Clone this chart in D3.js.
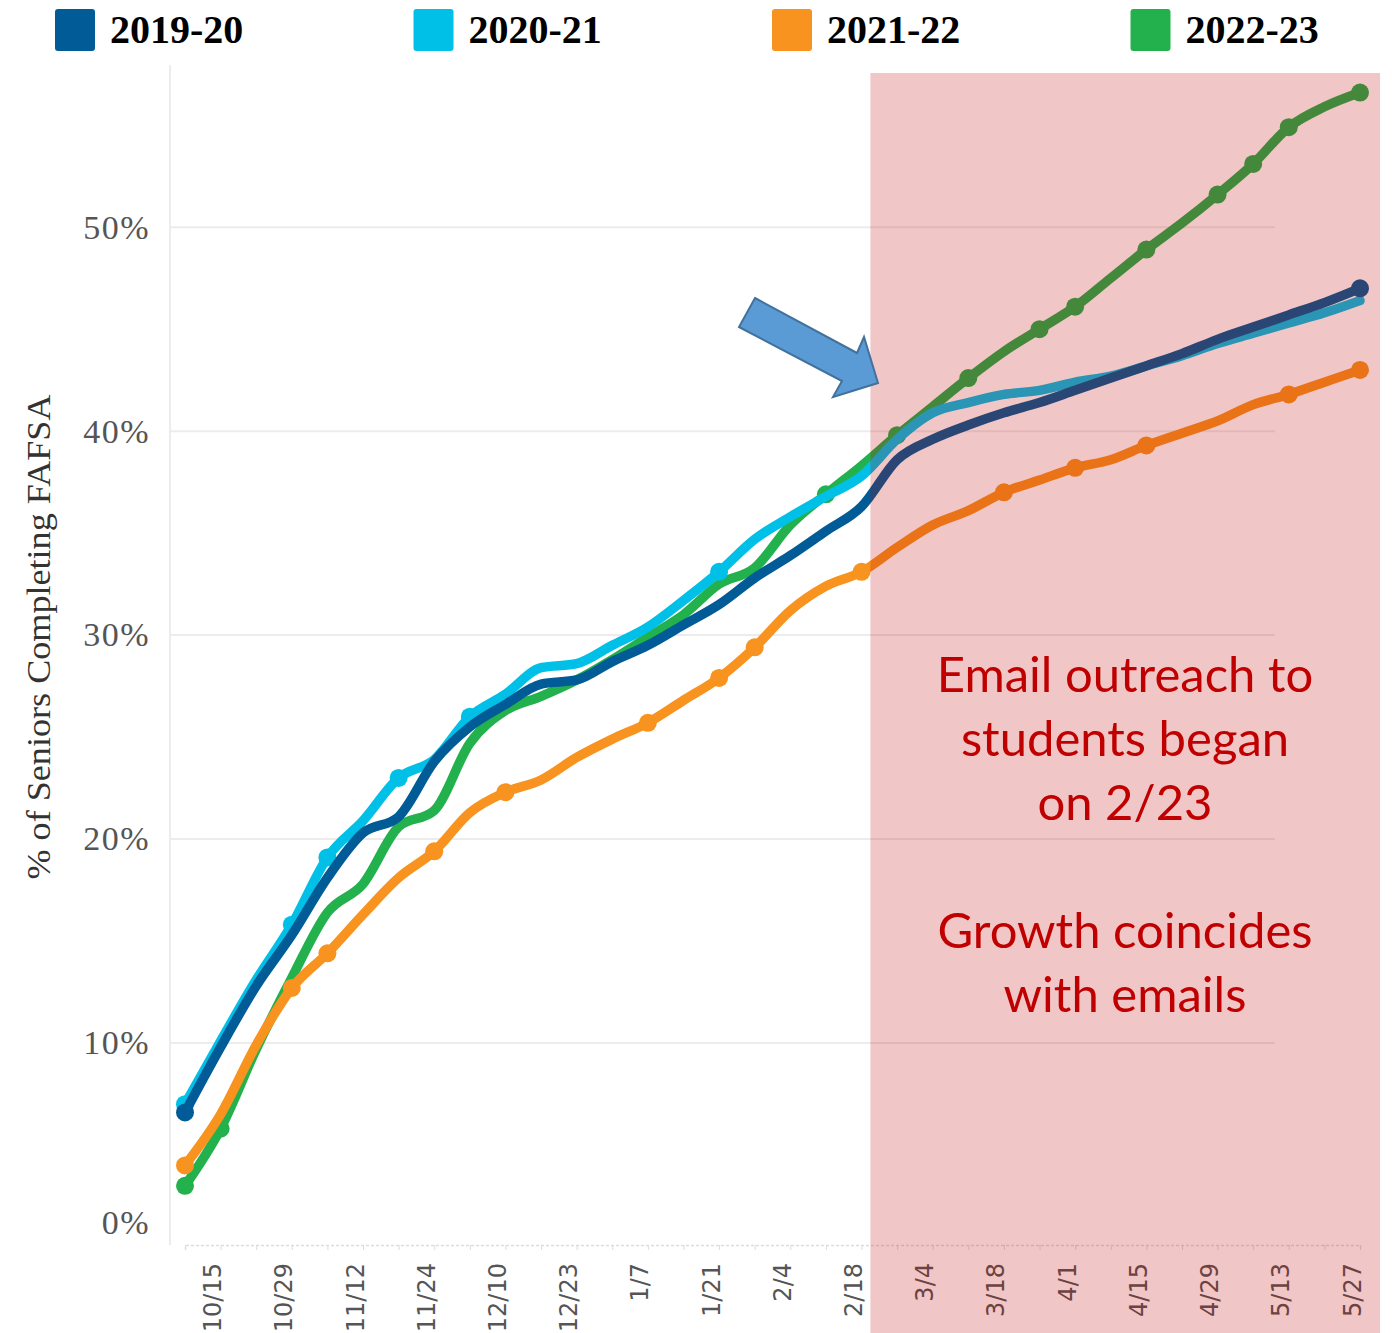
<html>
<head>
<script src="https://d3js.org/d3.v7.min.js"></script>
<style>
  body { margin: 0; background: #fff; }
  svg { display: block; }
</style>
</head>
<body>
<svg></svg>
<script>
// weekly points, labels on every second week
var weeks = ["10/8","10/15","10/22","10/29","11/5","11/12","11/18","11/24","12/3","12/10",
  "12/17","12/23","12/30","1/7","1/14","1/21","1/28","2/4","2/11","2/18",
  "2/25","3/4","3/11","3/18","3/25","4/1","4/8","4/15","4/22","4/29",
  "5/6","5/13","5/20","5/27"];
var labelWeeks = ["10/15","10/29","11/12","11/24","12/10","12/23","1/7","1/21","2/4","2/18",
  "3/4","3/18","4/1","4/15","4/29","5/13","5/27"];
var seasons = ["2019-20", "2020-21", "2021-22", "2022-23"];
var colors = ["#005b96", "#00c0e8", "#f7931e", "#22b14c"];

// % of seniors completing FAFSA
var s1920 = [6.6, 9.8, 12.8, 15.3, 18.1, 20.3, 21.1, 23.8, 25.5, 26.6, 27.6, 27.8, 28.7, 29.5, 30.5, 31.5, 32.8,
  33.9, 35.1, 36.3, 38.6, 39.6, 40.3, 40.9, 41.4, 42.0, 42.6, 43.2, 43.8, 44.5, 45.1, 45.7, 46.3, 47.0];
var s2021 = [7.0, 10.1, 13.1, 15.8, 19.1, 20.9, 23.0, 23.9, 26.0, 27.1, 28.4, 28.6, 29.5, 30.4, 31.7, 33.1, 34.7,
  35.8, 36.8, 37.8, 39.6, 40.9, 41.4, 41.8, 42.0, 42.4, 42.7, 43.2, 43.7, 44.3, 44.8, 45.3, 45.8, 46.4];
var s2122 = [4.0, 6.5, 9.9, 12.7, 14.4, 16.3, 18.1, 19.4, 21.3, 22.3, 22.9, 24.0, 24.9, 25.7, 26.8, 27.9, 29.4,
  31.2, 32.4, 33.1, 34.3, 35.4, 36.1, 37.0, 37.6, 38.2, 38.6, 39.3, 39.9, 40.5, 41.3, 41.8, 42.4, 43.0];
var s2223 = [3.0, 5.8, 9.7, 13.2, 16.4, 17.8, 20.6, 21.4, 24.7, 26.3, 27.0, 27.8, 28.8, 29.9, 31.0, 32.5, 33.3,
  35.4, 36.9, 38.3, 39.8, 41.2, 42.6, 43.9, 45.0, 46.1, 47.5, 48.9, 50.2, 51.6, 53.1, 54.9, 55.9, 56.6];
// weeks that carry a marker
var dots1920 = [0, 33];
var dots2021 = [0, 3, 4, 6, 8, 15];
var dots2122 = [0, 3, 4, 7, 9, 13, 15, 16, 19, 23, 25, 27, 31, 33];
var dots2223 = [0, 1, 18, 20, 22, 24, 25, 27, 29, 30, 31, 33];

var yTicks = [0, 10, 20, 30, 40, 50];
var emailStart = 19.25; // 2/23, in weeks from first point
var noteLines1 = ["Email outreach to", "students began", "on 2/23"];
var noteLines2 = ["Growth coincides", "with emails"];

var width = 1392, height = 1333;
var svg = d3.select("svg").attr("width", width).attr("height", height);

var x = d3.scalePoint().domain(weeks).range([185, 1360]);
var y = d3.scaleLinear().domain([0, 58]).range([1247, 64]);
var xi = d3.scaleLinear().domain([0, weeks.length - 1]).range([185, 1360]);

// grid
svg.append("g").selectAll("line")
  .data(yTicks.filter(function(d){ return d > 0; }))
  .enter().append("line")
    .attr("x1", 170).attr("x2", 1275)
    .attr("y1", function(d){ return y(d); })
    .attr("y2", function(d){ return y(d); })
    .attr("stroke", "#ececec").attr("stroke-width", 2);

svg.append("line")
  .attr("x1", 170).attr("x2", 170).attr("y1", 65).attr("y2", 1245)
  .attr("stroke", "#ececec").attr("stroke-width", 2);

// y axis
var yAxis = svg.append("g")
  .attr("transform", "translate(170,0)")
  .call(d3.axisLeft(y).tickValues(yTicks).tickSize(0).tickPadding(20)
    .tickFormat(function(d){ return d + "%"; }));
yAxis.select(".domain").remove();
yAxis.selectAll("text")
  .attr("font-family", "Liberation Serif, serif")
  .attr("font-size", 34)
  .attr("letter-spacing", 1.5)
  .attr("fill", "#555")
  .attr("dy", function(d){ return d === 0 ? "-0.4em" : "0.32em"; });

svg.append("text")
  .attr("transform", "translate(50,637) rotate(-90)")
  .attr("text-anchor", "middle")
  .attr("font-family", "Liberation Serif, serif")
  .attr("font-size", 33)
  .attr("fill", "#333")
  .attr("textLength", 485)
  .attr("lengthAdjust", "spacingAndGlyphs")
  .text("% of Seniors Completing FAFSA");

// x axis
var xAxis = svg.append("g")
  .attr("transform", "translate(0,1245)")
  .call(d3.axisBottom(x).tickSize(5)
    .tickFormat(function(d){ return labelWeeks.indexOf(d) >= 0 ? d : ""; }));
xAxis.select(".domain")
  .attr("stroke", "#ddd").attr("stroke-width", 1.5).attr("stroke-dasharray", "3,2");
xAxis.selectAll(".tick line").attr("stroke", "#ddd");
xAxis.selectAll("text")
  .attr("transform", "rotate(-90)")
  .attr("x", -18).attr("y", 0).attr("dy", 0)
  .attr("text-anchor", "end")
  .attr("font-family", "DejaVu Sans, sans-serif")
  .attr("font-size", 24)
  .attr("fill", "#555");

// lines, drawn bottom to top
var series = [
  {name: seasons[3], values: s2223, dots: dots2223, color: colors[3]},
  {name: seasons[2], values: s2122, dots: dots2122, color: colors[2]},
  {name: seasons[1], values: s2021, dots: dots2021, color: colors[1]},
  {name: seasons[0], values: s1920, dots: dots1920, color: colors[0]}
];

var line = d3.line()
  .x(function(d, i){ return x(weeks[i]); })
  .y(function(d){ return y(d); })
  .curve(d3.curveMonotoneX);

series.forEach(function(s){
  var g = svg.append("g");
  g.append("path")
    .attr("d", line(s.values))
    .attr("fill", "none")
    .attr("stroke", s.color)
    .attr("stroke-width", 9.5)
    .attr("stroke-linejoin", "round")
    .attr("stroke-linecap", "round");
  g.selectAll("circle")
    .data(s.dots)
    .enter().append("circle")
      .attr("cx", function(i){ return x(weeks[i]); })
      .attr("cy", function(i){ return y(s.values[i]); })
      .attr("r", 9)
      .attr("fill", s.color);
});

// legend
var legend = svg.append("g").selectAll("g")
  .data(seasons)
  .enter().append("g")
    .attr("transform", function(d, i){ return "translate(" + (55 + i * 358.5) + ",0)"; });
legend.append("rect")
  .attr("x", 0).attr("y", 9).attr("width", 40).attr("height", 42).attr("rx", 3)
  .attr("fill", function(d, i){ return colors[i]; });
legend.append("text")
  .attr("x", 55).attr("y", 43)
  .attr("font-family", "Liberation Serif, serif")
  .attr("font-weight", "bold")
  .attr("font-size", 40)
  .attr("fill", "#000")
  .text(function(d){ return d; });

// shaded period after email outreach
svg.append("rect")
  .attr("x", xi(emailStart)).attr("y", 73)
  .attr("width", 1380 - xi(emailStart)).attr("height", height - 73)
  .attr("fill", "rgb(188,0,0)").attr("fill-opacity", 0.224);

// arrow
svg.append("polygon")
  .attr("points", "755,298 857,353 864,337 878,383 833,397 842,381 739,327")
  .attr("fill", "#5b9bd5").attr("stroke", "#41719c").attr("stroke-width", 2);

// note
var note = svg.append("g")
  .attr("font-family", "Lato, sans-serif")
  .attr("font-size", 49)
  .attr("fill", "#c00000")
  .attr("text-anchor", "middle");
note.selectAll(".n1").data(noteLines1).enter().append("text")
  .attr("x", 1125).attr("y", function(d, i){ return 692 + i * 64; })
  .text(function(d){ return d; });
note.selectAll(".n2").data(noteLines2).enter().append("text")
  .attr("x", 1125).attr("y", function(d, i){ return 948 + i * 64; })
  .text(function(d){ return d; });
</script>
</body>
</html>
